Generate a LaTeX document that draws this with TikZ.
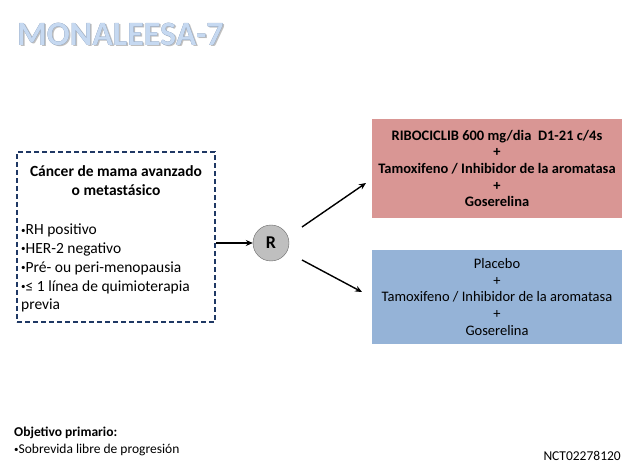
\documentclass[tikz,border=0pt]{standalone}
\usepackage{fontspec}
\setmainfont{Carlito}
\usepackage[outline]{contour}
\usetikzlibrary{arrows.meta}
\definecolor{titlefill}{HTML}{C6D9F1}
\definecolor{titleline}{HTML}{5A7396}
\definecolor{dashblue}{HTML}{1F3864}
\definecolor{armred}{HTML}{D99694}
\definecolor{armblue}{HTML}{95B3D7}
\definecolor{randgray}{HTML}{BFBFBF}
\newcommand\bul{\raisebox{0.22ex}{\fontsize{9}{9}\selectfont•}}
\tikzset{
    arm/.style={minimum width=250pt, inner sep=0pt, align=center, font=\fontsize{14.5}{16.8}\selectfont},
    flow/.style={-{Stealth[length=7pt,width=6pt]}, line width=1.4pt}
}
\begin{document}
\begin{tikzpicture}[x=1pt,y=-1pt]
                \useasboundingbox (0,0) rectangle (630,473);
                \contourlength{0.9pt}
                \node[anchor=west, inner sep=0pt, text=black!25, font=\fontsize{34}{38}\bfseries\selectfont] (TitleS) at (18.5,35.5) {MONALEESA-7};
                \node[anchor=west, inner sep=0pt, font=\fontsize{34}{38}\bfseries\selectfont] (Title) at (17,34) {\contour{titleline}{\textcolor{titlefill}{MONALEESA-7}}};
                \node[draw=dashblue, dashed, line width=2pt, dash pattern=on 5pt off 3pt, minimum width=198pt, minimum height=170pt] (Pop) at (116,237) {};
                \node[align=center, font=\fontsize{15.5}{19}\bfseries\selectfont] (PopT) at (116,181) {Cáncer de mama avanzado\\o metastásico};
                \node[anchor=north west, align=left, inner sep=0pt, font=\fontsize{15.5}{18.7}\selectfont] (PopL) at (21,224) {\bul RH positivo\\\bul HER-2 negativo\\\bul Pré- ou peri-menopausia\\\bul≤ 1 línea de quimioterapia\\previa};
                \node[circle, draw=gray!80!black, fill=randgray, minimum size=36pt, inner sep=0pt, font=\fontsize{18}{20}\bfseries\selectfont] (Rand) at (271,243) {R};
                \node[arm, fill=armred, minimum height=99pt, text depth=-3pt, font=\fontsize{14.5}{16.6}\bfseries\selectfont] (ArmA) at (497,168.5) {RIBOCICLIB 600 mg/dia\ \ D1-21 c/4s\\+\\Tamoxifeno / Inhibidor de la aromatasa\\+\\Goserelina};
                \node[arm, fill=armblue, minimum height=94pt] (ArmB) at (497,297) {Placebo\\+\\Tamoxifeno / Inhibidor de la aromatasa\\+\\Goserelina};
                \coordinate (A1) at (302,227);
                \coordinate (A2) at (366,183);
                \coordinate (B1) at (302,260);
                \coordinate (B2) at (362,292);
                \draw[flow] (Pop.east |- Rand) -- (Rand.west);
                \draw[flow] (A1) -- (A2);
                \draw[flow] (B1) -- (B2);
                \node[anchor=north west, align=left, inner sep=0pt, font=\fontsize{13.5}{17}\selectfont] (Obj) at (14,427) {\textbf{Objetivo primario:}\\\bul Sobrevida libre de progresión};
                \node[anchor=east, inner sep=0pt, font=\fontsize{13.5}{15}\selectfont] (NCT) at (621,456) {NCT02278120};
            \end{tikzpicture}
\end{document}
